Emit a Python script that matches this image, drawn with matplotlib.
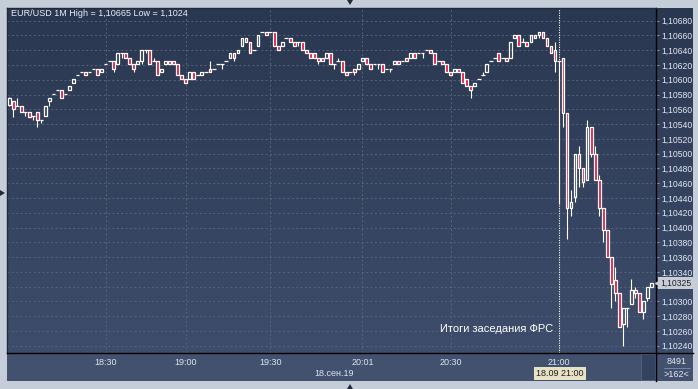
import numpy as np
import matplotlib.pyplot as plt
from matplotlib.colors import LinearSegmentedColormap
from matplotlib.patches import Rectangle, Polygon
from matplotlib.lines import Line2D

plt.rcParams['font.family'] = ['Liberation Sans', 'DejaVu Sans']

# 1-minute EUR/USD candles, 18.09.19
opens = [
    1.10566, 1.10571, 1.10565, 1.10565, 1.10556, 1.10556, 1.10551, 1.10556, 1.10546, 1.10551,
    1.10571, 1.10581, 1.10586, 1.10586, 1.10581, 1.10586, 1.10595, 1.10606, 1.10610, 1.10610,
    1.10610, 1.10615, 1.10615, 1.10610, 1.10621, 1.10625, 1.10625, 1.10621, 1.10636, 1.10636,
    1.10630, 1.10621, 1.10621, 1.10625, 1.10641, 1.10641, 1.10625, 1.10625, 1.10610, 1.10621,
    1.10625, 1.10625, 1.10621, 1.10606, 1.10601, 1.10601, 1.10610, 1.10606, 1.10606, 1.10610,
    1.10615, 1.10615, 1.10621, 1.10621, 1.10625, 1.10630, 1.10636, 1.10636, 1.10646, 1.10656,
    1.10651, 1.10641, 1.10646, 1.10665, 1.10665, 1.10665, 1.10665, 1.10646, 1.10646, 1.10656,
    1.10656, 1.10651, 1.10651, 1.10651, 1.10641, 1.10636, 1.10636, 1.10630, 1.10630, 1.10630,
    1.10636, 1.10621, 1.10625, 1.10625, 1.10610, 1.10610, 1.10615, 1.10615, 1.10625, 1.10630,
    1.10621, 1.10621, 1.10621, 1.10621, 1.10615, 1.10615, 1.10621, 1.10625, 1.10625, 1.10630,
    1.10630, 1.10636, 1.10636, 1.10636, 1.10641, 1.10641, 1.10636, 1.10625, 1.10625, 1.10621,
    1.10610, 1.10610, 1.10615, 1.10610, 1.10601, 1.10591, 1.10591, 1.10601, 1.10606, 1.10610,
    1.10625, 1.10630, 1.10636, 1.10630, 1.10630, 1.10630, 1.10656, 1.10661, 1.10651, 1.10651,
    1.10651, 1.10661, 1.10661, 1.10665, 1.10656, 1.10646, 1.10641, 1.10626, 1.10630, 1.10555,
    1.10426, 1.10441, 1.10500, 1.10480, 1.10465, 1.10536, 1.10500, 1.10465, 1.10426, 1.10397,
    1.10360, 1.10329, 1.10311, 1.10270, 1.10291, 1.10296, 1.10315, 1.10311, 1.10285, 1.10305,
    1.10320,
]
closes = [
    1.10575, 1.10560, 1.10565, 1.10556, 1.10556, 1.10550, 1.10551, 1.10546, 1.10546, 1.10565,
    1.10576, 1.10581, 1.10586, 1.10576, 1.10581, 1.10591, 1.10601, 1.10606, 1.10610, 1.10606,
    1.10610, 1.10615, 1.10606, 1.10615, 1.10621, 1.10625, 1.10615, 1.10636, 1.10636, 1.10630,
    1.10621, 1.10615, 1.10625, 1.10641, 1.10641, 1.10621, 1.10625, 1.10606, 1.10615, 1.10625,
    1.10621, 1.10621, 1.10606, 1.10601, 1.10595, 1.10610, 1.10601, 1.10606, 1.10610, 1.10610,
    1.10610, 1.10615, 1.10621, 1.10621, 1.10625, 1.10636, 1.10630, 1.10641, 1.10656, 1.10651,
    1.10636, 1.10641, 1.10661, 1.10665, 1.10661, 1.10665, 1.10646, 1.10641, 1.10651, 1.10656,
    1.10651, 1.10646, 1.10651, 1.10641, 1.10636, 1.10630, 1.10630, 1.10625, 1.10625, 1.10636,
    1.10621, 1.10621, 1.10625, 1.10610, 1.10606, 1.10610, 1.10610, 1.10621, 1.10630, 1.10621,
    1.10615, 1.10621, 1.10621, 1.10610, 1.10615, 1.10615, 1.10625, 1.10621, 1.10625, 1.10625,
    1.10636, 1.10630, 1.10636, 1.10636, 1.10641, 1.10636, 1.10621, 1.10625, 1.10621, 1.10610,
    1.10606, 1.10615, 1.10610, 1.10595, 1.10591, 1.10586, 1.10595, 1.10601, 1.10606, 1.10621,
    1.10625, 1.10630, 1.10625, 1.10630, 1.10625, 1.10651, 1.10661, 1.10646, 1.10651, 1.10646,
    1.10661, 1.10656, 1.10665, 1.10656, 1.10646, 1.10636, 1.10626, 1.10626, 1.10555, 1.10426,
    1.10435, 1.10500, 1.10480, 1.10461, 1.10536, 1.10500, 1.10465, 1.10426, 1.10397, 1.10360,
    1.10324, 1.10311, 1.10265, 1.10291, 1.10291, 1.10315, 1.10311, 1.10285, 1.10300, 1.10320,
    1.10325,
]
highs = [
    1.10577, 1.10571, 1.10576, 1.10565, 1.10556, 1.10556, 1.10551, 1.10556, 1.10546, 1.10565,
    1.10576, 1.10581, 1.10586, 1.10586, 1.10581, 1.10591, 1.10601, 1.10606, 1.10610, 1.10610,
    1.10610, 1.10615, 1.10615, 1.10615, 1.10621, 1.10625, 1.10625, 1.10636, 1.10636, 1.10636,
    1.10630, 1.10621, 1.10625, 1.10641, 1.10641, 1.10641, 1.10630, 1.10625, 1.10615, 1.10625,
    1.10625, 1.10625, 1.10621, 1.10606, 1.10601, 1.10610, 1.10610, 1.10606, 1.10610, 1.10610,
    1.10625, 1.10615, 1.10621, 1.10621, 1.10625, 1.10636, 1.10636, 1.10641, 1.10656, 1.10656,
    1.10651, 1.10641, 1.10661, 1.10665, 1.10665, 1.10665, 1.10665, 1.10646, 1.10651, 1.10656,
    1.10656, 1.10651, 1.10651, 1.10651, 1.10641, 1.10636, 1.10636, 1.10630, 1.10630, 1.10636,
    1.10636, 1.10621, 1.10630, 1.10625, 1.10610, 1.10610, 1.10615, 1.10621, 1.10630, 1.10630,
    1.10621, 1.10621, 1.10621, 1.10621, 1.10615, 1.10615, 1.10625, 1.10625, 1.10625, 1.10630,
    1.10636, 1.10636, 1.10636, 1.10636, 1.10641, 1.10641, 1.10636, 1.10625, 1.10625, 1.10621,
    1.10610, 1.10615, 1.10615, 1.10610, 1.10601, 1.10591, 1.10595, 1.10601, 1.10610, 1.10621,
    1.10625, 1.10630, 1.10636, 1.10630, 1.10630, 1.10651, 1.10661, 1.10661, 1.10656, 1.10651,
    1.10661, 1.10661, 1.10665, 1.10665, 1.10656, 1.10646, 1.10651, 1.10626, 1.10630, 1.10555,
    1.10451, 1.10500, 1.10510, 1.10480, 1.10546, 1.10536, 1.10510, 1.10471, 1.10426, 1.10397,
    1.10360, 1.10347, 1.10311, 1.10291, 1.10291, 1.10330, 1.10320, 1.10311, 1.10300, 1.10320,
    1.10325,
]
lows = [
    1.10564, 1.10550, 1.10565, 1.10556, 1.10551, 1.10550, 1.10545, 1.10536, 1.10541, 1.10551,
    1.10565, 1.10581, 1.10586, 1.10576, 1.10581, 1.10586, 1.10595, 1.10606, 1.10610, 1.10606,
    1.10610, 1.10615, 1.10606, 1.10610, 1.10621, 1.10625, 1.10610, 1.10621, 1.10630, 1.10630,
    1.10621, 1.10610, 1.10621, 1.10621, 1.10636, 1.10621, 1.10625, 1.10606, 1.10610, 1.10621,
    1.10621, 1.10621, 1.10606, 1.10601, 1.10595, 1.10601, 1.10601, 1.10606, 1.10606, 1.10610,
    1.10610, 1.10615, 1.10621, 1.10615, 1.10625, 1.10630, 1.10625, 1.10636, 1.10646, 1.10651,
    1.10636, 1.10641, 1.10646, 1.10665, 1.10661, 1.10665, 1.10646, 1.10641, 1.10646, 1.10656,
    1.10651, 1.10646, 1.10646, 1.10641, 1.10636, 1.10630, 1.10630, 1.10621, 1.10625, 1.10630,
    1.10621, 1.10615, 1.10625, 1.10610, 1.10606, 1.10610, 1.10606, 1.10615, 1.10625, 1.10621,
    1.10615, 1.10621, 1.10615, 1.10610, 1.10615, 1.10610, 1.10621, 1.10621, 1.10625, 1.10625,
    1.10630, 1.10630, 1.10636, 1.10630, 1.10641, 1.10636, 1.10621, 1.10625, 1.10621, 1.10610,
    1.10606, 1.10610, 1.10610, 1.10595, 1.10591, 1.10576, 1.10591, 1.10601, 1.10606, 1.10610,
    1.10625, 1.10630, 1.10625, 1.10630, 1.10625, 1.10630, 1.10656, 1.10646, 1.10651, 1.10646,
    1.10651, 1.10656, 1.10656, 1.10656, 1.10646, 1.10636, 1.10610, 1.10432, 1.10536, 1.10385,
    1.10415, 1.10435, 1.10455, 1.10455, 1.10465, 1.10496, 1.10465, 1.10415, 1.10381, 1.10360,
    1.10291, 1.10300, 1.10265, 1.10240, 1.10265, 1.10296, 1.10304, 1.10285, 1.10276, 1.10300,
    1.10320,
]

price_ticks = [1.10240, 1.10260, 1.10280, 1.10300, 1.10320, 1.10340, 1.10360, 1.10380,
               1.10400, 1.10420, 1.10440, 1.10460, 1.10480, 1.10500, 1.10520, 1.10540,
               1.10560, 1.10580, 1.10600, 1.10620, 1.10640, 1.10660, 1.10680]
time_idx = [24, 44, 65, 88, 110, 137]
time_labels = ['18:30', '19:00', '19:30', '20:01', '20:30', '21:00']
last_price = 1.10325

W, H = 698, 389
fig = plt.figure(figsize=(W / 100, H / 100), dpi=100, facecolor='#c4cdd8')


def fx(x):
    return x / W


def fy(y):
    return 1 - y / H


# gradient background for plot + price panel
bg = fig.add_axes([fx(7.5), fy(353), fx(693) - fx(7.5), (353 - 7.5) / H], zorder=0)
cm = LinearSegmentedColormap.from_list('bg', ['#2a3750', '#3d4d6b'])
bg.imshow(np.linspace(0, 1, 256).reshape(-1, 1), aspect='auto', cmap=cm,
          extent=[0, 1, 0, 1])
bg.set_axis_off()

# bottom time panel, scrollbar box
fig.add_artist(Rectangle((fx(7.5), fy(381)), fx(693) - fx(7.5), (381 - 353) / H,
                         transform=fig.transFigure, facecolor='#41516e', edgecolor='none', zorder=0))
fig.add_artist(Rectangle((fx(641), fy(380)), fx(655) - fx(641), (380 - 354) / H,
                         transform=fig.transFigure, facecolor='#334260', edgecolor='#56647d',
                         lw=0.6, zorder=1))

ax = fig.add_axes([fx(7.5), fy(353), (655.5 - 7.5) / W, (353 - 7.5) / H], zorder=2)
ax.set_facecolor('none')
ax.set_xlim(-0.45, 161.05)
ax.set_ylim(1.102301, 1.106979)

o = np.array(opens)
c = np.array(closes)
h = np.array(highs)
lo = np.array(lows)
x = np.arange(len(o))
top = np.maximum(o, c)
bot = np.minimum(o, c)
w = 0.7

# grid
for t in price_ticks:
    ax.axhline(t, color='#56637e', lw=0.7, ls=(0, (2, 2.5)), zorder=1)
for t in time_idx[:-1]:
    ax.axvline(t, color='#56637e', lw=0.7, ls=(0, (2, 2.5)), zorder=1)
ax.axvline(time_idx[-1], color='white', lw=0.8, ls=(0, (1, 1.2)), zorder=2)

# wicks
up = h > top
dn = lo < bot
ax.vlines(x[up], top[up], h[up], color='white', lw=0.8, zorder=3)
ax.vlines(x[dn], lo[dn], bot[dn], color='white', lw=0.8, zorder=3)

# bodies
bull = c > o
bear = c < o
doji = c == o
ax.bar(x[bull], (c - o)[bull], bottom=o[bull], width=w, facecolor='none',
       edgecolor='white', lw=0.9, zorder=4)
ax.bar(x[bear], (o - c)[bear], bottom=c[bear], width=w, facecolor='#e3173c',
       edgecolor='white', lw=0.9, zorder=4)
ax.hlines(o[doji], x[doji] - w / 2 - 0.12, x[doji] + w / 2 + 0.12, color='white',
          lw=0.9, zorder=4)

# axes styling
ax.yaxis.tick_right()
ax.set_yticks(price_ticks, ['' if abs(t - last_price) < 0.0001 else f'{t:.5f}'.replace('.', ',')
                            for t in price_ticks])
ax.tick_params(axis='y', length=2, width=0.7, color='#7d95c0', labelsize=6.2,
               labelcolor='#e4e9f1', pad=2.5)
ax.set_xticks(time_idx, time_labels)
ax.tick_params(axis='x', length=0, labelsize=6.5, labelcolor='#dde4ee', pad=3.8)
for side in ['left', 'top']:
    ax.spines[side].set_color('#1f2a3b')
for side in ['right', 'bottom']:
    ax.spines[side].set_color('black')
for s in ax.spines.values():
    s.set_linewidth(1)

# panel separators
fig.add_artist(Line2D([fx(655.5), fx(655.5)], [fy(353), fy(381)], color='black', lw=1,
                      transform=fig.transFigure, zorder=3))
fig.add_artist(Line2D([fx(655.5), fx(693)], [fy(353), fy(353)], color='black', lw=1,
                      transform=fig.transFigure, zorder=3))

# texts
fig.text(fx(11), fy(14), 'EUR/USD 1M High = 1,10665 Low = 1,1024', va='center',
         ha='left', fontsize=6.5, color='#e9edf4', zorder=5)
fig.text(fx(553), fy(329), 'Итоги заседания ФРС', va='center', ha='right',
         fontsize=8, color='white', zorder=5)
fig.text(fx(334), fy(374), '18.сен.19', va='center', ha='center', fontsize=6.5,
         color='#dde4ee', zorder=5)
fig.text(fx(559.6), fy(373.5), '18.09 21:00', va='center', ha='center', fontsize=6.5,
         color='#1c1c1c', zorder=5,
         bbox=dict(boxstyle='square,pad=0.25', facecolor='#e7e2c4', edgecolor='none'))
fig.text(fx(676.5), fy(361.5), '8491', va='center', ha='center', fontsize=6.5,
         color='#e4e9f1', zorder=5)
fig.text(fx(676.5), fy(374.5), '>162<', va='center', ha='center', fontsize=6.5,
         color='#e4e9f1', zorder=5)
fig.add_artist(Line2D([fx(664), fx(690)], [fy(368), fy(368)], color='#8c9ab2', lw=0.5,
                      transform=fig.transFigure, zorder=4))

# last price marker
yt = ax.get_yaxis_transform()
ax.text((660 - 7.5) / 648, last_price, '1,10325', transform=yt, va='center', ha='left',
        fontsize=6.2, color='#1a1f2c', zorder=6, clip_on=False,
        bbox=dict(boxstyle='square,pad=0.2', facecolor='#c9ced6', edgecolor='none'))
ax.plot([1.0045], [last_price], marker='<', ms=5, color='#c9ced6', transform=yt,
        clip_on=False, zorder=6)

# little frame triangles
for pts in ([(347, 0), (353, 0), (350, 5)], [(347, 389), (353, 389), (350, 384)],
            [(0, 190), (0, 196), (5, 193)]):
    fig.add_artist(Polygon([(fx(a), fy(b)) for a, b in pts], closed=True,
                           transform=fig.transFigure, facecolor='#222b3b',
                           edgecolor='none', zorder=5))

fig.savefig('out.png', dpi=100, facecolor=fig.get_facecolor())
